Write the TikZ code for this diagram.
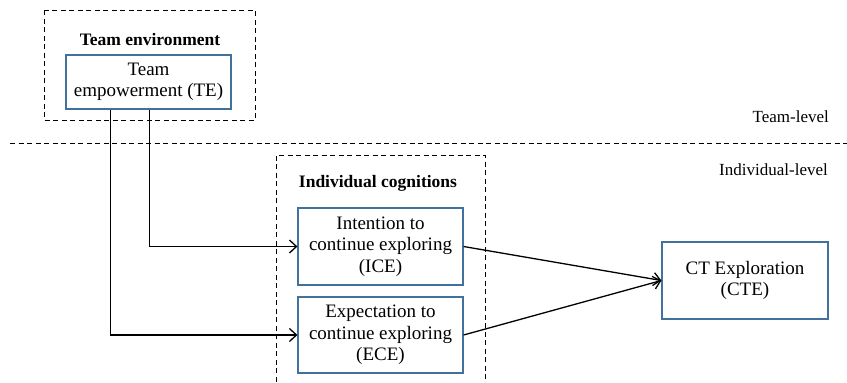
\documentclass[tikz,border=0pt]{standalone}
\usepackage{fontspec}
\setmainfont{Liberation Serif}
\usetikzlibrary{arrows.meta}
\tikzset{
  construct/.style={draw=boxblue, line width=1.2pt, inner sep=0pt, align=center,
    font=\fontsize{19}{21.5}\selectfont},
  grouplabel/.style={font=\fontsize{17.5}{20}\selectfont\bfseries, inner sep=0pt},
  levellabel/.style={font=\fontsize{17}{20}\selectfont, inner sep=0pt},
  groupline/.style={line width=1pt, dash pattern=on 5pt off 3.5pt},
  link/.style={line width=1.3pt, -{Straight Barb[length=7pt,width=13pt,line width=1.3pt]}},
}
\definecolor{boxblue}{HTML}{41719C}
\begin{document}
\begin{tikzpicture}[x=1pt,y=-1pt]
  \useasboundingbox (0,0) rectangle (847,383);
  % level divider and its labels
  \draw[groupline] (10,143) -- (847,143);
  \node[levellabel, anchor=east] (teamlvl) at (829,117) {Team-level};
  \node[levellabel, anchor=east] (indlvl) at (828,170) {Individual-level};
  % team environment group
  \draw[groupline] (44,10) rectangle (255,120);
  \node[grouplabel] (envlabel) at (150,40) {Team environment};
  \node[construct, minimum width=165pt, minimum height=54pt] (TE) at (148.5,82)
    {Team\\empowerment (TE)};
  % individual cognitions group (runs off the bottom edge)
  \draw[groupline] (276,390) -- (276,155) -- (485,155) -- (485,390);
  \node[grouplabel] (indlabel) at (378,183) {Individual cognitions};
  \node[construct, minimum width=165pt, minimum height=77pt] (ICE) at (380.5,246.5)
    {Intention to\\continue exploring\\(ICE)};
  \node[construct, minimum width=165pt, minimum height=76pt] (ECE) at (380.5,335)
    {Expectation to\\continue exploring\\(ECE)};
  % outcome
  \node[construct, minimum width=166pt, minimum height=77pt] (CTE) at (745,280.5)
    {CT Exploration\\(CTE)};
  % paths
  \draw[link] ([xshift=1pt]TE.south) |- (ICE.west);
  \draw[link] ([xshift=-38pt]TE.south) |- (ECE.west);
  \draw[link] (ICE.east) -- (CTE.west);
  \draw[link] (ECE.east) -- (CTE.west);
\end{tikzpicture}
\end{document}
